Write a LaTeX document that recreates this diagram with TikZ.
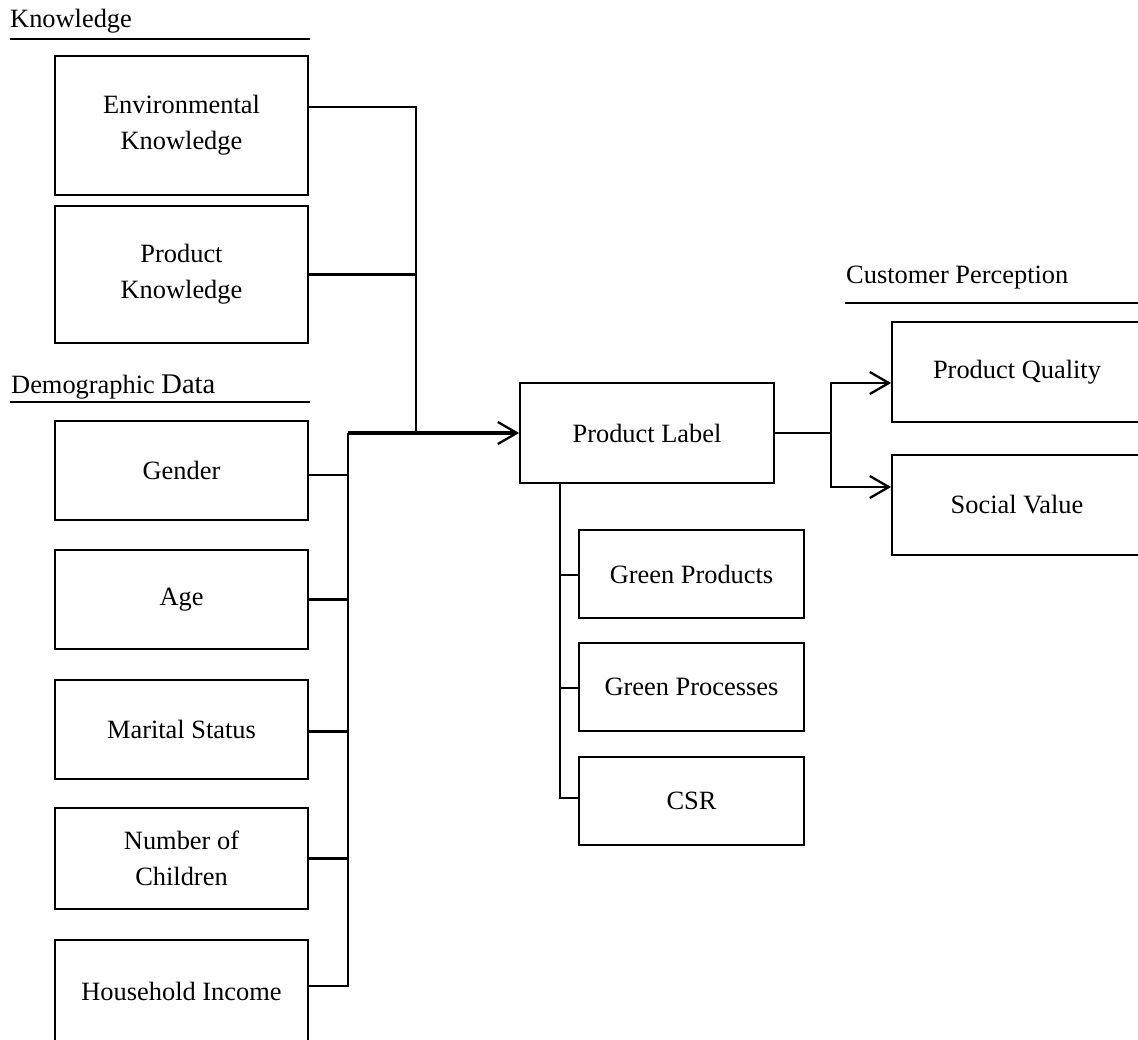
\documentclass[tikz,border=0pt]{standalone}
\usepackage{fontspec}
\setmainfont{Liberation Serif}
\usetikzlibrary{arrows.meta}
\newcommand\boxfont{\fontsize{26.4}{36}\selectfont}
\begin{document}
\begin{tikzpicture}[x=1pt,y=-1pt,
  box/.style={draw,line width=1.8pt,inner sep=0pt,align=center,font=\boxfont,
              minimum width=253pt,minimum height=100pt},
  title/.style={anchor=base west,inner sep=0pt,font=\boxfont},
  rule/.style={line width=2.4pt},
  conn/.style={line width=2.3pt},
  mainconn/.style={line width=3.2pt},
  tip/.style={-{Straight Barb[length=19pt,width=22pt,line width=2.3pt]}}
]
\useasboundingbox (0,0) rectangle (1138,1039);
\clip (0,0) rectangle (1138,1039);

% group headings
\node[title] (tknow) at (10,27) {Knowledge};
\draw[rule] (10,39) -- (310,39);
\node[title] (tdemo) at (11,393) {Demographic \fontsize{28.5}{36}\selectfont Data};
\draw[rule] (10,402) -- (310,402);
\node[title] (tcust) at (846,283) {Customer Perception};
\draw[rule] (845,303) -- (1145,303);

% knowledge boxes
\node[box,minimum height=139pt] (env) at (181.5,125.5) {Environmental\\Knowledge};
\node[box,minimum height=137pt] (pk) at (181.5,274.5) {Product\\Knowledge};

% demographic boxes
\node[box,minimum height=99pt]  (gender)   at (181.5,470.5) {Gender};
\node[box,minimum height=99pt]  (age)      at (181.5,599.5) {Age};
\node[box,minimum height=99pt]  (marital)  at (181.5,729.5) {Marital Status};
\node[box,minimum height=101pt] (children) at (181.5,858.5) {Number of\\Children};
\node[box,minimum height=102pt] (income)   at (181.5,991)   {Household Income};

% central label and its attributes
\node[box,minimum width=254pt] (label) at (647,433) {Product Label};
\node[box,minimum width=225pt,minimum height=88pt] (gprod) at (691.5,574) {Green Products};
\node[box,minimum width=225pt,minimum height=88pt] (gproc) at (691.5,687) {Green Processes};
\node[box,minimum width=225pt,minimum height=88pt] (csr)   at (691.5,801) {CSR};

% perception boxes
\node[box,minimum width=250pt] (quality) at (1017,372) {Product Quality};
\node[box,minimum width=250pt] (social)  at (1017,505) {Social Value};

% bus junctions, level with the label's centre
\coordinate (kjoin) at (416,433);
\coordinate (djoin) at (348,433);
\coordinate (cjoin) at (831,433);
\coordinate (gbus)  at (560,0);

% knowledge bus
\draw[conn] ([yshift=18.5pt]env.east) -| (kjoin);
\draw[conn] (pk.east) -| (kjoin);

% demographic bus
\draw[conn] ([yshift=-4.5pt]gender.east) -| (djoin);
\draw[conn] (age.east) -| (djoin);
\draw[conn] ([yshift=-2pt]marital.east) -| (djoin);
\draw[conn] (children.east) -| (djoin);
\draw[conn] ([yshift=5pt]income.east) -| (djoin);

% into the label
\draw[mainconn,tip] (djoin) -- (label.west);

% label attributes
\draw[conn] (label.south -| gbus) |- ([yshift=-1pt]gprod.west);
\draw[conn] (label.south -| gbus) |- ([yshift=-1pt]gproc.west);
\draw[conn] (label.south -| gbus) |- ([yshift=3pt]csr.west);

% perception
\draw[conn] (label.east) -- (cjoin);
\draw[conn,tip] (cjoin) |- ([yshift=-11pt]quality.west);
\draw[conn,tip] (cjoin) |- ([yshift=18pt]social.west);
\end{tikzpicture}
\end{document}
